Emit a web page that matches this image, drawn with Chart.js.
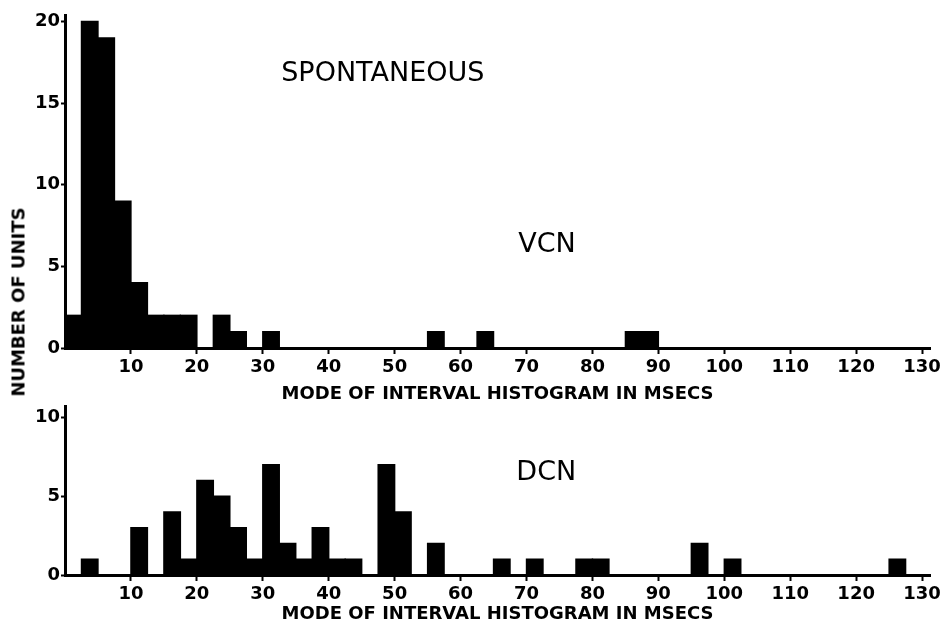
<!DOCTYPE html>
<html>
<head>
<meta charset="utf-8">
<title>Spontaneous – mode of interval histogram</title>
<script src="https://cdn.jsdelivr.net/npm/chart.js@4.4.0/dist/chart.umd.min.js"></script>
<style>
  html, body { margin: 0; padding: 0; background: #fff; }
  #wrap { position: relative; width: 946px; height: 625px; overflow: hidden; }
  #vcn { position: absolute; left: 0; top: 0; }
  #dcn { position: absolute; left: 0; top: 395px; }
  #yTitle {
    position: absolute; left: 18px; top: 302px;
    transform: translate(-50%, -50%) rotate(-90deg);
    font: bold 18px "DejaVu Sans"; color: #000; white-space: nowrap;
  }
</style>
</head>
<body>
<div id="wrap">
  <canvas id="vcn" width="946" height="405"></canvas>
  <canvas id="dcn" width="946" height="230"></canvas>
  <div id="yTitle">NUMBER OF UNITS</div>
</div>
<script>
// bins of 2.5 msec, left edges
const binWidth = 2.5;
const binStart = [0, 2.5, 5, 7.5, 10, 12.5, 15, 17.5, 20, 22.5,
  25, 27.5, 30, 32.5, 35, 37.5, 40, 42.5, 45, 47.5,
  50, 52.5, 55, 57.5, 60, 62.5, 65, 67.5, 70, 72.5,
  75, 77.5, 80, 82.5, 85, 87.5, 90, 92.5, 95, 97.5,
  100, 102.5, 105, 107.5, 110, 112.5, 115, 117.5, 120, 122.5,
  125, 127.5];

// number of units per bin
const vcnCounts = [2, 20, 19, 9, 4, 2, 2, 2, 0, 2,
  1, 0, 1, 0, 0, 0, 0, 0, 0, 0,
  0, 0, 1, 0, 0, 1, 0, 0, 0, 0,
  0, 0, 0, 0, 1, 1, 0, 0, 0, 0,
  0, 0, 0, 0, 0, 0, 0, 0, 0, 0,
  0, 0];
const dcnCounts = [0, 1, 0, 0, 3, 0, 4, 1, 6, 5,
  3, 1, 7, 2, 1, 3, 1, 1, 0, 7,
  4, 0, 2, 0, 0, 0, 1, 0, 1, 0,
  0, 1, 1, 0, 0, 0, 0, 0, 2, 0,
  1, 0, 0, 0, 0, 0, 0, 0, 0, 0,
  1, 0];

const xTickValues = [10, 20, 30, 40, 50, 60, 70, 80, 90, 100, 110, 120, 130];
const vcnYTicks = [0, 5, 10, 15, 20];
const dcnYTicks = [0, 5, 10];
const xTitle = 'MODE OF INTERVAL HISTOGRAM IN MSECS';

const FONT = 'DejaVu Sans';
const tickFont = { family: FONT, weight: 'bold', size: 18 };

// free text inside a panel, placed in data units (baseline at y)
const panelText = {
  id: 'panelText',
  afterDraw(chart, args, opts) {
    const { ctx, scales: { x, y } } = chart;
    ctx.save();
    ctx.fillStyle = '#000';
    ctx.textAlign = 'center';
    ctx.textBaseline = 'alphabetic';
    (opts.items || []).forEach(it => {
      ctx.font = `${it.size}px "${FONT}"`;
      ctx.fillText(it.text, x.getPixelForValue(it.x), y.getPixelForValue(it.y));
    });
    ctx.restore();
  }
};

function histogram(canvasId, counts, yMax, yTicks, padTop, xHeight, texts) {
  return new Chart(document.getElementById(canvasId), {
    type: 'bar',
    data: {
      datasets: [{
        data: binStart.map((s, i) => ({ x: s + binWidth / 2, y: counts[i] })),
        backgroundColor: '#000',
        borderWidth: 0,
        inflateAmount: 0.7, // close the hairline seams between touching bars
        barPercentage: 1,
        categoryPercentage: 1
      }]
    },
    options: {
      responsive: false,
      animation: false,
      layout: { padding: { top: padTop, right: 16, left: 0, bottom: 0 } },
      plugins: {
        legend: { display: false },
        tooltip: { enabled: false },
        panelText: { items: texts }
      },
      scales: {
        x: {
          type: 'linear', min: 0, max: 131.2, offset: false,
          afterBuildTicks: s => { s.ticks = xTickValues.map(v => ({ value: v })); },
          afterFit: s => { s.height = xHeight; },
          border: { display: true, color: '#000', width: 3 },
          grid: { offset: false, drawOnChartArea: false, drawTicks: true, tickLength: 6, tickWidth: 2, tickColor: '#000' },
          ticks: { color: '#000', font: tickFont, padding: 3, maxRotation: 0, autoSkip: false },
          title: { display: true, text: xTitle, color: '#000', font: tickFont, padding: 0 }
        },
        y: {
          min: 0, max: yMax,
          afterBuildTicks: s => { s.ticks = yTicks.map(v => ({ value: v })); },
          afterFit: s => { s.width = 65; },
          border: { display: true, color: '#000', width: 3 },
          grid: { drawOnChartArea: false, drawTicks: true, tickLength: 4, tickWidth: 2, tickColor: '#000' },
          ticks: { color: '#000', font: tickFont, padding: 1 }
        }
      }
    },
    plugins: [panelText]
  });
}

histogram('vcn', vcnCounts, 20.4, vcnYTicks, 15, 57, [
  { text: 'SPONTANEOUS', x: 48.2, y: 16.36, size: 27 },
  { text: 'VCN', x: 73.1, y: 5.88, size: 27 }
]);

histogram('dcn', dcnCounts, 10.68, dcnYTicks, 8, 50, [
  { text: 'DCN', x: 73.0, y: 6.02, size: 27 }
]);
</script>
</body>
</html>
